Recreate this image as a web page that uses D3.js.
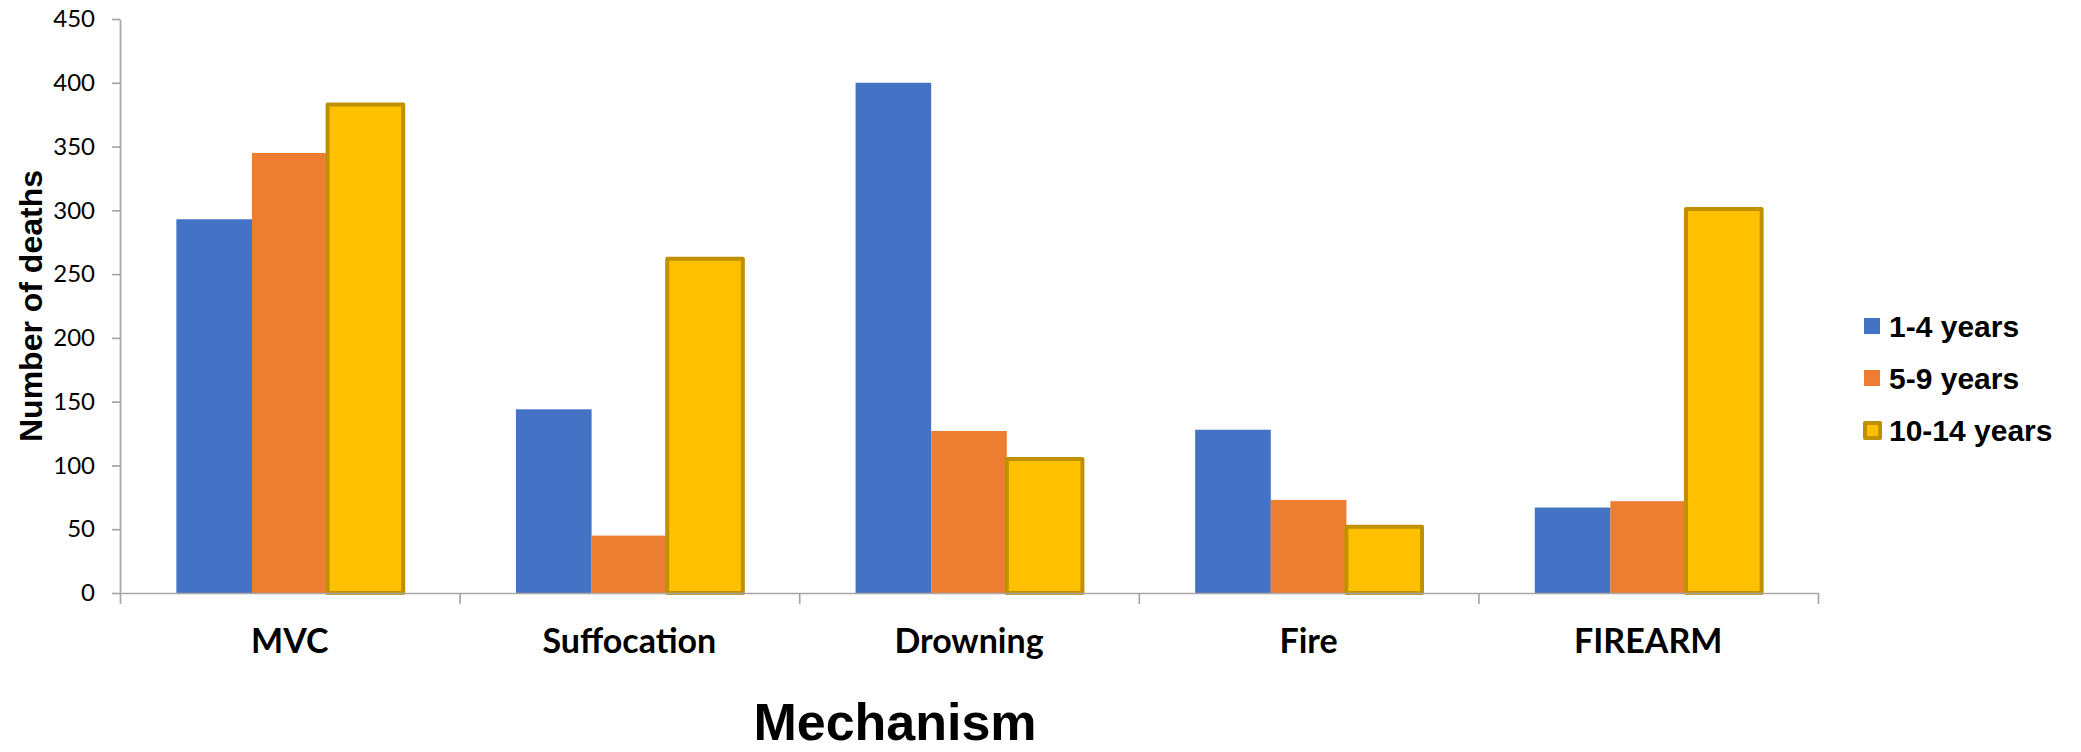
<!DOCTYPE html>
<html>
<head>
<meta charset="utf-8">
<script src="https://cdn.jsdelivr.net/npm/d3@7"></script>
<style>
  html, body { margin: 0; padding: 0; background: #ffffff; }
  svg { display: block; }
</style>
</head>
<body>
<svg id="chart" width="2081" height="752"></svg>
<script>
// Deaths by injury mechanism and age group
const categories = ["MVC", "Suffocation", "Drowning", "Fire", "FIREARM"];
const seriesNames = ["1-4 years", "5-9 years", "10-14 years"];
const ages1to4 = [293, 144, 400, 128, 67];
const ages5to9 = [345, 45, 127, 73, 72];
const ages10to14 = [383, 262, 105, 52, 301];
const yTicks = [0, 50, 100, 150, 200, 250, 300, 350, 400, 450];

const seriesValues = [ages1to4, ages5to9, ages10to14];
const fills = ["#4472C4", "#ED7D31", "#FFC000"];
const strokes = [null, null, "#BF9000"];

const svg = d3.select("#chart");
const plotLeft = 120, plotRight = 1818, plotTop = 19, plotBase = 593;

const x0 = d3.scaleBand().domain(categories).range([plotLeft, plotRight])
  .paddingInner(0.332).paddingOuter(0.166);
const x1 = d3.scaleBand().domain(seriesNames).range([0, x0.bandwidth()]);
const y = d3.scaleLinear().domain([0, 450]).range([plotBase, plotTop]);
const xEdge = d3.scaleLinear().domain([0, categories.length]).range([plotLeft, plotRight]);

const axisColor = "#A6A6A6";

// y axis
const yAxis = svg.append("g").attr("transform", `translate(${plotLeft},0)`)
  .call(d3.axisLeft(y).tickValues(yTicks).tickSize(8).tickSizeOuter(0).tickPadding(17));
yAxis.select(".domain").attr("stroke", axisColor).attr("stroke-width", 1.7);
yAxis.selectAll(".tick line").attr("stroke", axisColor).attr("stroke-width", 1.7);
yAxis.selectAll(".tick text")
  .attr("font-family", "Lato, 'Open Sans', sans-serif")
  .attr("font-size", 24).attr("fill", "#000");

// bars
const groups = svg.append("g").selectAll("g").data(categories).join("g")
  .attr("transform", d => `translate(${x0(d)},0)`);
groups.selectAll("rect")
  .data((c, ci) => seriesNames.map((s, si) => ({ s, si, v: seriesValues[si][ci] })))
  .join("rect")
  .attr("x", d => x1(d.s))
  .attr("width", x1.bandwidth())
  .attr("y", d => y(d.v))
  .attr("height", d => y(0) - y(d.v))
  .attr("fill", d => fills[d.si])
  .attr("stroke", d => strokes[d.si] || "none")
  .attr("stroke-width", d => strokes[d.si] ? 4 : 0)
  .attr("stroke-linejoin", "round");

// x axis line with boundary ticks
const xAxis = svg.append("g").attr("transform", `translate(0,${plotBase})`)
  .call(d3.axisBottom(xEdge).tickValues(d3.range(categories.length + 1))
    .tickSize(11).tickSizeOuter(0).tickFormat(""));
xAxis.select(".domain").attr("stroke", axisColor).attr("stroke-width", 1.7);
xAxis.selectAll(".tick line").attr("stroke", axisColor).attr("stroke-width", 1.7);

// category labels
const catAxis = svg.append("g").attr("transform", `translate(0,${plotBase})`)
  .call(d3.axisBottom(x0).tickSize(0));
catAxis.select(".domain").remove();
catAxis.selectAll(".tick text")
  .attr("y", 60).attr("dy", 0)
  .attr("font-family", "Lato, 'Open Sans', sans-serif")
  .attr("font-weight", "bold")
  .attr("font-size", 34).attr("fill", "#000");

// axis titles
svg.append("text")
  .attr("transform", "translate(42,306) rotate(-90)")
  .attr("text-anchor", "middle")
  .attr("font-family", "'Liberation Sans', Arial, sans-serif")
  .attr("font-weight", "bold").attr("font-size", 32)
  .text("Number of deaths");

svg.append("text")
  .attr("x", 895).attr("y", 740)
  .attr("text-anchor", "middle")
  .attr("font-family", "'Liberation Sans', Arial, sans-serif")
  .attr("font-weight", "bold").attr("font-size", 52)
  .text("Mechanism");

// legend
const legend = svg.append("g").attr("transform", "translate(1864,318)");
const items = legend.selectAll("g").data(seriesNames).join("g")
  .attr("transform", (d, i) => `translate(0,${i * 52})`);
items.append("rect")
  .attr("x", (d, i) => strokes[i] ? 1 : 0)
  .attr("y", (d, i) => strokes[i] ? 1 : 0)
  .attr("width", (d, i) => strokes[i] ? 15 : 16)
  .attr("height", (d, i) => strokes[i] ? 15 : 16)
  .attr("fill", (d, i) => fills[i])
  .attr("stroke", (d, i) => strokes[i] || "none")
  .attr("stroke-width", (d, i) => strokes[i] ? 4 : 0)
  .attr("stroke-linejoin", "round");
items.append("text")
  .attr("x", 25).attr("y", 19)
  .attr("font-family", "'Liberation Sans', Arial, sans-serif")
  .attr("font-weight", "bold").attr("font-size", 30)
  .attr("fill", "#000")
  .text(d => d);
</script>
</body>
</html>
